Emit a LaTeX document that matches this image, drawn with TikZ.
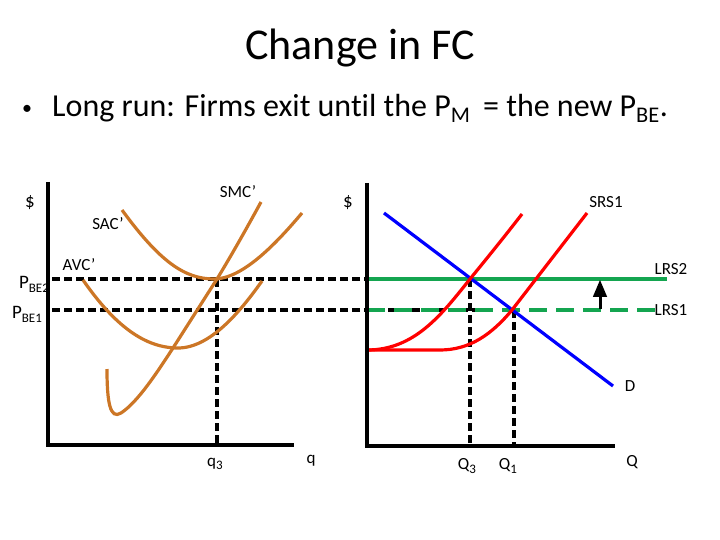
\documentclass[tikz,border=0pt]{standalone}
\usepackage{fontspec}
\setmainfont[Ligatures=NoCommon]{Carlito}
\usepackage{tikz}
\usetikzlibrary{arrows}
\definecolor{costorange}{RGB}{204,118,38}
\definecolor{lrsgreen}{RGB}{20,165,80}
\newcommand{\lsub}[1]{\raisebox{-0.45ex}{\fontsize{13}{13}\selectfont #1}}
\tikzset{
  axisline/.style = {line width=4.2pt},
  costcurve/.style = {draw=costorange, line width=3.2pt},
  supplycurve/.style = {draw=red, line width=3.2pt},
  guideline/.style = {line width=3.2pt, dash pattern=on 8pt off 4pt},
  lbl/.style = {font=\fontsize{17}{20}\selectfont, inner sep=0pt}
}

\begin{document}
\begin{tikzpicture}[x=1pt, y=-1pt]
\useasboundingbox (0,0) rectangle (720,540);
% title and bullet
\node (title) at (360,48) {\fontsize{44}{50}\selectfont Change in FC};
\node (dot) at (27,110) {\fontsize{20}{20}\selectfont\textbullet};
\node[anchor=west, inner sep=0pt] (bullet) at (52,108) {\fontsize{32}{36}\selectfont Long run: Firms exit until the P\textsubscript{M}\, = the new P\textsubscript{BE}.};
% firm graph
\draw[guideline] (52,279) -- (369,279);
\draw[guideline] (52,310) -- (495,310);
\draw[guideline] (217,279) -- (217,445);
\draw[costcurve] (122,210) .. controls (160,262) and (185,279) .. (214,279) .. controls (242,279) and (275,245) .. (302,213);
\draw[costcurve] (83,280) .. controls (115,326) and (145,348) .. (178,348) .. controls (210,348) and (240,312) .. (262,281);
\draw[costcurve] (107,369) .. controls (107,402) and (110,420) .. (121,413) .. controls (138,402) and (158,371) .. (173,348) -- (217,279) .. controls (234,251) and (249,224) .. (261,202);
\draw[axisline] (48,182) -- (48,445) -- (294,445);
\node[lbl, font=\fontsize{19}{20}\selectfont] (dollarL) at (30,203) {\$};
\node[lbl] (smc) at (238,192) {SMC’};
\node[lbl] (sac) at (108,224) {SAC’};
\node[lbl] (avc) at (79,265) {AVC’};
\node[lbl, font=\fontsize{19}{20}\selectfont] (pbe2) at (34,284) {P\lsub{BE2}};
\node[lbl, font=\fontsize{19}{20}\selectfont] (pbe1) at (27,314) {P\lsub{BE1}};
\node[lbl] (qthree) at (215,464) {q\lsub{3}};
\node[lbl] (qfirm) at (311,461) {q};
% market graph
\draw[guideline] (470,279) -- (470,446);
\draw[guideline] (514,310) -- (514,446);
\draw[draw=lrsgreen, line width=3.2pt] (367,279) -- (667,279);
\draw[draw=lrsgreen, line width=3.2pt, dash pattern=on 18pt off 9pt] (367,310) -- (662,310);
\draw[draw=blue, line width=3.2pt] (384,213) -- (613,386);
\draw[supplycurve] (367,350) .. controls (415,350) and (442,314) .. (470,279) .. controls (488,257) and (505,236) .. (522,214);
\draw[supplycurve] (367,350) -- (440,350) .. controls (470,350) and (492,334) .. (512,310) -- (587,213);
\draw[line width=3pt, -triangle 45] (600,309) -- (600,280);
\draw[axisline] (367,183) -- (367,446) -- (615,446);
\node[lbl, font=\fontsize{19}{20}\selectfont] (dollarR) at (348,203) {\$};
\node[lbl] (srs) at (606,202) {SRS1};
\node[lbl] (lrstwo) at (671,269) {LRS2};
\node[lbl] (lrsone) at (671,310) {LRS1};
\node[lbl] (dem) at (630,386) {D};
\node[lbl] (Qthree) at (467,466) {Q\lsub{3}};
\node[lbl] (Qone) at (508,466) {Q\lsub{1}};
\node[lbl] (Qmkt) at (632,462) {Q};
\end{tikzpicture}
\end{document}
